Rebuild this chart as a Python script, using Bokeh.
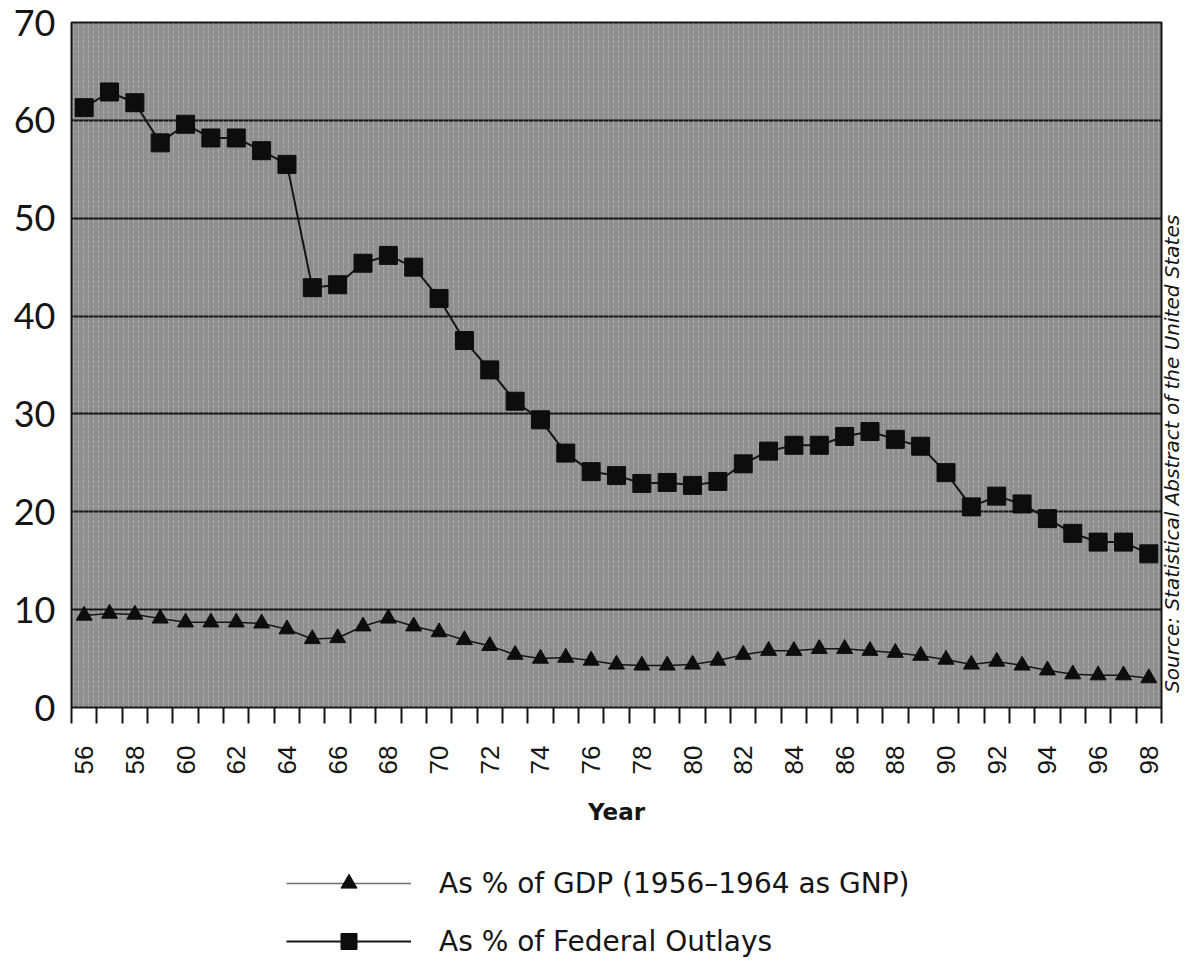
import math
from bokeh.plotting import figure
from bokeh.layouts import column
from bokeh.models import (FixedTicker, Legend, LegendItem, ColumnDataSource,
                          Range1d, LinearAxis, BoxAnnotation)
from bokeh.embed import file_html
from bokeh.resources import INLINE

# ---- data ----
years = list(range(56, 99))
outlays_pct = [61.3, 62.9, 61.8, 57.7, 59.6, 58.2, 58.2, 56.9, 55.5, 42.9,
               43.2, 45.4, 46.2, 45.0, 41.8, 37.5, 34.5, 31.3, 29.4, 26.0,
               24.1, 23.7, 22.9, 23.0, 22.7, 23.1, 24.9, 26.2, 26.8, 26.8,
               27.7, 28.2, 27.4, 26.7, 24.0, 20.5, 21.6, 20.8, 19.3, 17.8,
               16.9, 16.9, 15.7]
gdp_pct = [9.4, 9.6, 9.5, 9.1, 8.7, 8.7, 8.7, 8.6, 8.0, 7.0,
           7.1, 8.3, 9.1, 8.3, 7.7, 6.9, 6.3, 5.4, 5.0, 5.1,
           4.8, 4.4, 4.3, 4.3, 4.4, 4.8, 5.4, 5.8, 5.8, 6.0,
           6.0, 5.8, 5.6, 5.3, 4.9, 4.4, 4.7, 4.3, 3.8, 3.4,
           3.3, 3.3, 3.0]
x_label_years = list(range(56, 99, 2))
x_tick_marks = [y + 0.5 for y in range(55, 99)]
y_ticks = [0, 10, 20, 30, 40, 50, 60, 70]
label_gdp = "As % of GDP (1956\u20131964 as GNP)"
label_outlays = "As % of Federal Outlays"
source_text = "Source: Statistical Abstract of the United States"
source_anchor = 1.5

INK = "#151515"
src = ColumnDataSource(dict(year=years, outlays=outlays_pct, gdp=gdp_pct))

p = figure(width=1199, height=828,
           x_range=Range1d(55.5, 98.5), y_range=Range1d(0, 70),
           output_backend="svg", toolbar_location=None,
           min_border_left=71, min_border_top=22, min_border_right=36,
           min_border_bottom=121)

p.background_fill_color = "#8f8f8f"
p.border_fill_color = "white"
p.outline_line_color = INK
p.outline_line_width = 2

# speckled paper texture
p.add_layout(BoxAnnotation(fill_alpha=0, line_color=None, level="underlay",
                           hatch_pattern=":", hatch_color="white",
                           hatch_alpha=0.25, hatch_scale=5, hatch_weight=1))

# x axis
xa = p.xaxis[0]
xa.ticker = FixedTicker(ticks=x_label_years, minor_ticks=x_tick_marks)
xa.major_tick_out = 0
xa.major_tick_in = 0
xa.minor_tick_out = 16
xa.minor_tick_in = 0
xa.minor_tick_line_color = INK
xa.minor_tick_line_width = 2
xa.axis_line_color = None
xa.major_label_orientation = math.pi / 2
xa.major_label_standoff = 22
xa.major_label_text_font = "Liberation Sans"
xa.major_label_text_font_size = "26px"
xa.major_label_text_color = INK
xa.axis_label = "Year"
xa.axis_label_text_font = "DejaVu Sans"
xa.axis_label_text_font_style = "bold"
xa.axis_label_text_font_size = "23px"
xa.axis_label_text_color = INK
xa.axis_label_standoff = 22

# left y axis
ya = p.yaxis[0]
ya.ticker = FixedTicker(ticks=y_ticks)
ya.major_tick_out = 0
ya.major_tick_in = 0
ya.minor_tick_out = 0
ya.minor_tick_in = 0
ya.axis_line_color = None
ya.major_label_standoff = 16
ya.major_label_text_font = "Lato"
ya.major_label_text_font_size = "36px"
ya.major_label_text_color = INK

p.xgrid.grid_line_color = None
p.ygrid.ticker = FixedTicker(ticks=y_ticks)
p.ygrid.grid_line_color = INK
p.ygrid.grid_line_width = 2

# source note as a right-hand axis label
ra = LinearAxis(ticker=FixedTicker(ticks=[source_anchor]),
                major_label_overrides={source_anchor: source_text},
                major_label_orientation=math.pi / 2,
                major_label_standoff=11,
                major_label_text_font="DejaVu Sans",
                major_label_text_font_style="italic",
                major_label_text_font_size="20px",
                major_label_text_color=INK,
                axis_line_color=None, major_tick_out=0, major_tick_in=0,
                minor_tick_out=0, minor_tick_in=0)
p.add_layout(ra, "right")

# series
p.line("year", "gdp", source=src, line_color=INK, line_width=1.5)
p.scatter("year", "gdp", source=src, marker="triangle", size=16,
          fill_color="#0d0d0d", line_color="#0d0d0d")
p.line("year", "outlays", source=src, line_color=INK, line_width=2)
p.scatter("year", "outlays", source=src, marker="square", size=18,
          fill_color="#0d0d0d", line_color="#0d0d0d")

# legend panel below the chart
q = figure(width=1199, height=133, x_range=Range1d(0, 1), y_range=Range1d(0, 1),
           output_backend="svg", toolbar_location=None, min_border=0)
q.axis.visible = False
q.grid.visible = False
q.outline_line_color = None
lg_line1 = q.line("year", "gdp", source=src, line_color="#707070", line_width=1.5)
lg_mark1 = q.scatter("year", "gdp", source=src, marker="triangle", size=16,
                     fill_color="#0d0d0d", line_color="#0d0d0d")
lg_line2 = q.line("year", "outlays", source=src, line_color=INK, line_width=2)
lg_mark2 = q.scatter("year", "outlays", source=src, marker="square", size=16,
                     fill_color="#0d0d0d", line_color="#0d0d0d")
legend = Legend(items=[LegendItem(label=label_gdp, renderers=[lg_line1, lg_mark1]),
                       LegendItem(label=label_outlays, renderers=[lg_line2, lg_mark2])],
                location=(215, 0), orientation="vertical",
                glyph_width=125, glyph_height=40, label_height=40,
                label_standoff=28,
                label_text_font="DejaVu Sans", label_text_font_size="28px",
                label_text_color=INK, spacing=18, padding=0, margin=0,
                border_line_color=None, background_fill_alpha=0)
q.add_layout(legend)

layout = column(p, q, spacing=0)
open("out.html", "w").write(file_html(layout, INLINE))
